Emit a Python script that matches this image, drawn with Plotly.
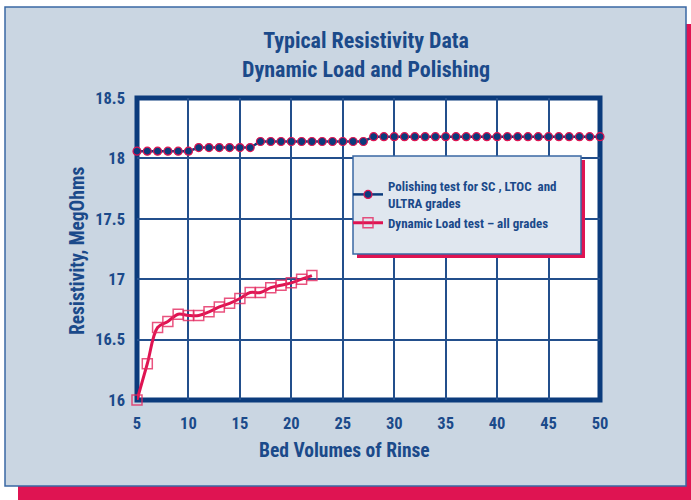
import plotly.graph_objects as go

# ---- data ----
bed_volumes_polishing = [5, 6, 7, 8, 9, 10, 11, 12, 13, 14, 15, 16, 17, 18, 19, 20,
                         21, 22, 23, 24, 25, 26, 27, 28, 29, 30, 31, 32, 33, 34, 35,
                         36, 37, 38, 39, 40, 41, 42, 43, 44, 45, 46, 47, 48, 49, 50]
resistivity_polishing = [18.06, 18.06, 18.06, 18.06, 18.06, 18.06,
                         18.09, 18.09, 18.09, 18.09, 18.09, 18.09,
                         18.14, 18.14, 18.14, 18.14, 18.14, 18.14, 18.14, 18.14,
                         18.14, 18.14, 18.14,
                         18.18, 18.18, 18.18, 18.18, 18.18, 18.18, 18.18, 18.18,
                         18.18, 18.18, 18.18, 18.18, 18.18, 18.18, 18.18, 18.18,
                         18.18, 18.18, 18.18, 18.18, 18.18, 18.18, 18.18]

bed_volumes_dynamic = [5, 6, 7, 8, 9, 10, 11, 12, 13, 14, 15, 16, 17, 18, 19, 20, 21, 22]
resistivity_dynamic = [16.00, 16.30, 16.60, 16.65, 16.71, 16.70, 16.70, 16.73, 16.77,
                       16.80, 16.84, 16.89, 16.89, 16.93, 16.95, 16.97, 17.00, 17.03]

x_tick_values = [5, 10, 15, 20, 25, 30, 35, 40, 45, 50]
y_tick_values = [16, 16.5, 17, 17.5, 18, 18.5]
y_tick_labels = ["16", "16.5", "17", "17.5", "18", "18.5"]

series_names = ["Polishing test for SC , LTOC  and<br>ULTRA grades",
                "Dynamic Load test \u2013 all grades"]

# ---- styling ----
W, H = 691, 500
ML, MR, MT, MB = 137, 91, 98, 100
PW, PH = W - ML - MR, H - MT - MB

NAVY = "#0b3b7c"
TEXT = "#1b4a8a"
GRID = "#234f8c"
CRIMSON = "#df1452"
PANEL = "#cad6e2"
FONT = "Liberation Sans Narrow, Roboto Condensed, Arial Narrow, Roboto, sans-serif"


def xp(px):
    return (px - ML) / PW


def yp(py):
    return (MT + PH - py) / PH


fig = go.Figure()

fig.add_trace(go.Scatter(
    x=bed_volumes_polishing, y=resistivity_polishing, name=series_names[0],
    mode="lines+markers", cliponaxis=False,
    line=dict(color=NAVY, width=2.5),
    marker=dict(symbol="circle", size=8, color=NAVY,
                line=dict(color=CRIMSON, width=1.2)),
))

fig.add_trace(go.Scatter(
    x=bed_volumes_dynamic, y=resistivity_dynamic, name=series_names[1],
    mode="lines+markers", cliponaxis=False,
    line=dict(color=CRIMSON, width=3, shape="spline", smoothing=1),
    marker=dict(symbol="square-open", size=10, color="rgba(228,40,95,0.8)",
                line=dict(width=1.5)),
))

shapes = [
    # crimson drop shadow of the panel
    dict(type="rect", xref="paper", yref="paper", layer="below",
         x0=xp(18), x1=xp(705), y0=yp(515), y1=yp(24),
         fillcolor=CRIMSON, line=dict(width=0)),
    # light panel
    dict(type="rect", xref="paper", yref="paper", layer="below",
         x0=xp(5), x1=xp(686), y0=yp(486), y1=yp(7),
         fillcolor=PANEL, line=dict(color="#3a68a4", width=1.5)),
    # white plotting area
    dict(type="rect", xref="paper", yref="paper", layer="below",
         x0=0, x1=1, y0=0, y1=1, fillcolor="white", line=dict(width=0)),
    # thick frame
    dict(type="rect", xref="paper", yref="paper", layer="below",
         x0=0, x1=1, y0=0, y1=1, line=dict(color=NAVY, width=5)),
    # legend shadow + box
    dict(type="rect", xref="paper", yref="paper", layer="above",
         x0=xp(357), x1=xp(585), y0=yp(258), y1=yp(160),
         fillcolor=CRIMSON, line=dict(width=0)),
    dict(type="rect", xref="paper", yref="paper", layer="above",
         x0=xp(353), x1=xp(581), y0=yp(254), y1=yp(156),
         fillcolor="#e0e7ef", line=dict(color="#3a68a4", width=1.5)),
]

annotations = [
    dict(text="Typical Resistivity Data<br>Dynamic Load and Polishing",
         xref="paper", yref="paper", x=xp(366), y=yp(55), showarrow=False,
         xanchor="center", yanchor="middle",
         font=dict(family=FONT, size=22, color=TEXT, weight="bold")),
    dict(text="Bed Volumes of Rinse", xref="paper", yref="paper",
         x=xp(344), y=yp(450), showarrow=False, xanchor="center", yanchor="middle",
         font=dict(family=FONT, size=19.5, color=TEXT, weight="bold")),
    dict(text="Resistivity, MegOhms", xref="paper", yref="paper",
         x=xp(77), y=yp(251), showarrow=False, textangle=-90,
         xanchor="center", yanchor="middle",
         font=dict(family=FONT, size=19.5, color=TEXT, weight="bold")),
]

fig.update_layout(
    width=W, height=H,
    margin=dict(l=ML, r=MR, t=MT, b=MB, autoexpand=False),
    paper_bgcolor="white", plot_bgcolor="rgba(0,0,0,0)",
    shapes=shapes, annotations=annotations,
    showlegend=True,
    legend=dict(x=xp(348), y=yp(171), xanchor="left", yanchor="top",
                bgcolor="rgba(0,0,0,0)", borderwidth=0, itemwidth=30,
                tracegroupgap=0,
                font=dict(family=FONT, size=13, color=TEXT, weight="bold")),
    xaxis=dict(range=[5, 50], tickvals=x_tick_values, showgrid=True,
               gridcolor=GRID, gridwidth=1.5, zeroline=False, showline=False,
               ticks="", ticklabelstandoff=11,
               tickfont=dict(family=FONT, size=16.5, color=TEXT, weight="bold")),
    yaxis=dict(range=[16, 18.5], tickvals=y_tick_values, ticktext=y_tick_labels,
               showgrid=True, gridcolor=GRID, gridwidth=1.5, zeroline=False,
               showline=False, ticks="", ticklabelstandoff=11,
               tickfont=dict(family=FONT, size=16.5, color=TEXT, weight="bold")),
)

fig.write_html("out.html",
               config={"displayModeBar": False},
               post_script="document.body.style.margin='0';"
                           "document.body.style.overflow='hidden';")
